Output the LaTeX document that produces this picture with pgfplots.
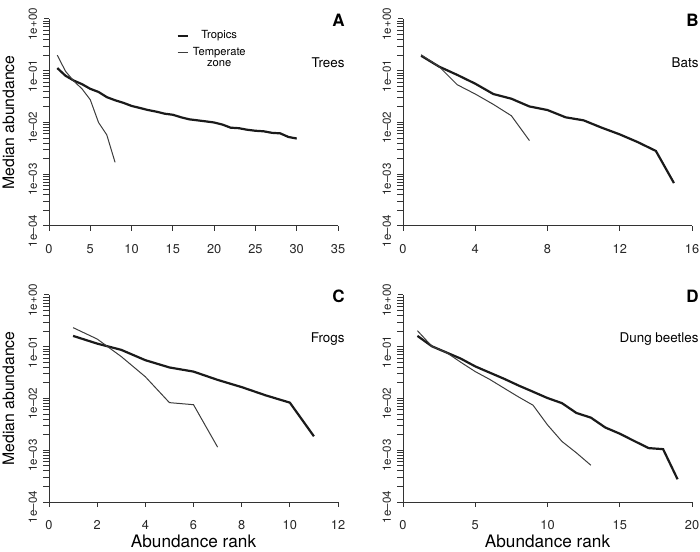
\documentclass[border=0pt]{standalone}
\usepackage{fontspec}
\setmainfont{TeX Gyre Heros}
\usepackage{pgfplots}
\pgfplotsset{compat=1.18}

\definecolor{axisgray}{HTML}{333333}
\definecolor{tropline}{HTML}{1A1A1A}
\definecolor{templine}{HTML}{3C3C3C}

\pgfplotsset{
  every axis/.append style={
    scale only axis, width=144.5pt, height=103.5pt,
    axis x line*=bottom, axis y line*=left,
    axis line style={line width=0.5pt, color=axisgray},
    tick style={line width=0.5pt, color=axisgray},
    tick align=outside, major tick length=2.5pt,
    ymin=1e-4, ymax=1,
    ytick={1e-4,1e-3,1e-2,1e-1,1},
    yticklabels={1e--04,1e--03,1e--02,1e--01,1e+00},
    minor tick num=0,
    ticklabel style={color=black!85},
    xticklabel style={font=\fontsize{6.4}{7}\selectfont, yshift=-3.2pt},
    yticklabel style={font=\fontsize{5.8}{6}\selectfont, rotate=90, anchor=south, xshift=-2.6pt},
    xlabel style={font=\fontsize{8.6}{10}\selectfont, at={(axis description cs:0.5,-0.192)}, anchor=center},
    ylabel style={font=\fontsize{7.9}{9}\selectfont, at={(axis description cs:-0.140,0.5)}, anchor=center},
    clip=false
  },
  trop/.style={line width=1.1pt, color=tropline},
  temp/.style={line width=0.5pt, color=templine}
}

\newcommand{\paneltag}[2]{%
  \node[anchor=east, inner sep=0pt, font=\bfseries\fontsize{8.5}{9}\selectfont] at (rel axis cs:1.024,0.992) {#1};
  \node[anchor=east, inner sep=0pt, font=\fontsize{6.7}{8}\selectfont] at (rel axis cs:1.024,0.787) {#2};}

\begin{document}
\begin{tikzpicture}
\path[use as bounding box] (0pt,0pt) rectangle (350pt,275.5pt);

% A: Trees
\begin{axis}[ymode=log, /pgf/number format/assume math mode=true,
  at={(24.5pt,162.5pt)}, anchor=south west,
  xmin=0, xmax=35, xtick={0,5,...,35}, ylabel={Median abundance},
  legend style={draw=none, fill=none, at={(rel axis cs:0.44,0.967)}, anchor=north west,
    font=\fontsize{5.6}{5.8}\selectfont, inner sep=0pt, row sep=-1.2pt},
  legend image code/.code={\draw[#1] (0pt,0pt) -- (5pt,0pt);}]
\addplot[trop] coordinates {
 (1,0.1127) (2,0.0800) (3,0.0646) (4,0.0550) (5,0.0447) (6,0.0389) (7,0.0309)
 (8,0.0269) (9,0.0240) (10,0.0209) (11,0.0191) (12,0.0174) (13,0.0162) (14,0.0148)
 (15,0.0141) (16,0.0126) (17,0.0115) (18,0.0110) (19,0.0105) (20,0.0100) (21,0.00912)
 (22,0.00794) (23,0.00776) (24,0.00724) (25,0.00692) (26,0.00676) (27,0.00631)
 (28,0.00617) (29,0.00525) (30,0.00490)};
\addlegendentry{Tropics}
\addplot[temp] coordinates {
 (1,0.200) (2,0.0977) (3,0.0631) (4,0.0447) (5,0.0275) (6,0.0100) (7,0.00575) (8,0.00170)};
\addlegendentry{\begin{tabular}[t]{@{}c@{}}Temperate\\zone\end{tabular}}
\paneltag{A}{Trees}
\end{axis}

% B: Bats
\begin{axis}[ymode=log, /pgf/number format/assume math mode=true,
  at={(201.5pt,162.5pt)}, anchor=south west,
  xmin=0, xmax=16, xtick={0,4,...,16}]
\addplot[trop] coordinates {
 (1,0.195) (2,0.120) (3,0.0832) (4,0.0562) (5,0.0355) (6,0.0288) (7,0.0204) (8,0.0174)
 (9,0.0126) (10,0.0110) (11,0.00794) (12,0.00589) (13,0.00417) (14,0.00282) (15,0.000676)};
\addplot[temp] coordinates {
 (1,0.204) (2,0.120) (3,0.0537) (4,0.0355) (5,0.0224) (6,0.0135) (7,0.00447)};
\paneltag{B}{Bats}
\end{axis}

% C: Frogs
\begin{axis}[ymode=log, /pgf/number format/assume math mode=true,
  at={(24.5pt,24.5pt)}, anchor=south west,
  xmin=0, xmax=12, xtick={0,2,...,12}, ylabel={Median abundance}, xlabel={Abundance rank}]
\addplot[trop] coordinates {
 (1,0.162) (2,0.115) (3,0.0871) (4,0.0550) (5,0.0398) (6,0.0331) (7,0.0229) (8,0.0166)
 (9,0.0115) (10,0.00832) (11,0.00186)};
\addplot[temp] coordinates {
 (1,0.234) (2,0.141) (3,0.0646) (4,0.0263) (5,0.00832) (6,0.00759) (7,0.00115)};
\paneltag{C}{Frogs}
\end{axis}

% D: Dung beetles
\begin{axis}[ymode=log, /pgf/number format/assume math mode=true,
  at={(201.5pt,24.5pt)}, anchor=south west,
  xmin=0, xmax=20, xtick={0,5,...,20}, xlabel={Abundance rank}]
\addplot[trop] coordinates {
 (1,0.162) (2,0.102) (3,0.0776) (4,0.0589) (5,0.0417) (6,0.0316) (7,0.0240) (8,0.0178)
 (9,0.0135) (10,0.0102) (11,0.00813) (12,0.00525) (13,0.00427) (14,0.00275) (15,0.00209)
 (16,0.00151) (17,0.00110) (18,0.00105) (19,0.000275)};
\addplot[temp] coordinates {
 (1,0.204) (2,0.102) (3,0.0776) (4,0.0501) (5,0.0331) (6,0.0234) (7,0.0158) (8,0.0107)
 (9,0.00741) (10,0.00309) (11,0.00148) (12,0.000891) (13,0.000513)};
\paneltag{D}{Dung beetles}
\end{axis}
\end{tikzpicture}
\end{document}
